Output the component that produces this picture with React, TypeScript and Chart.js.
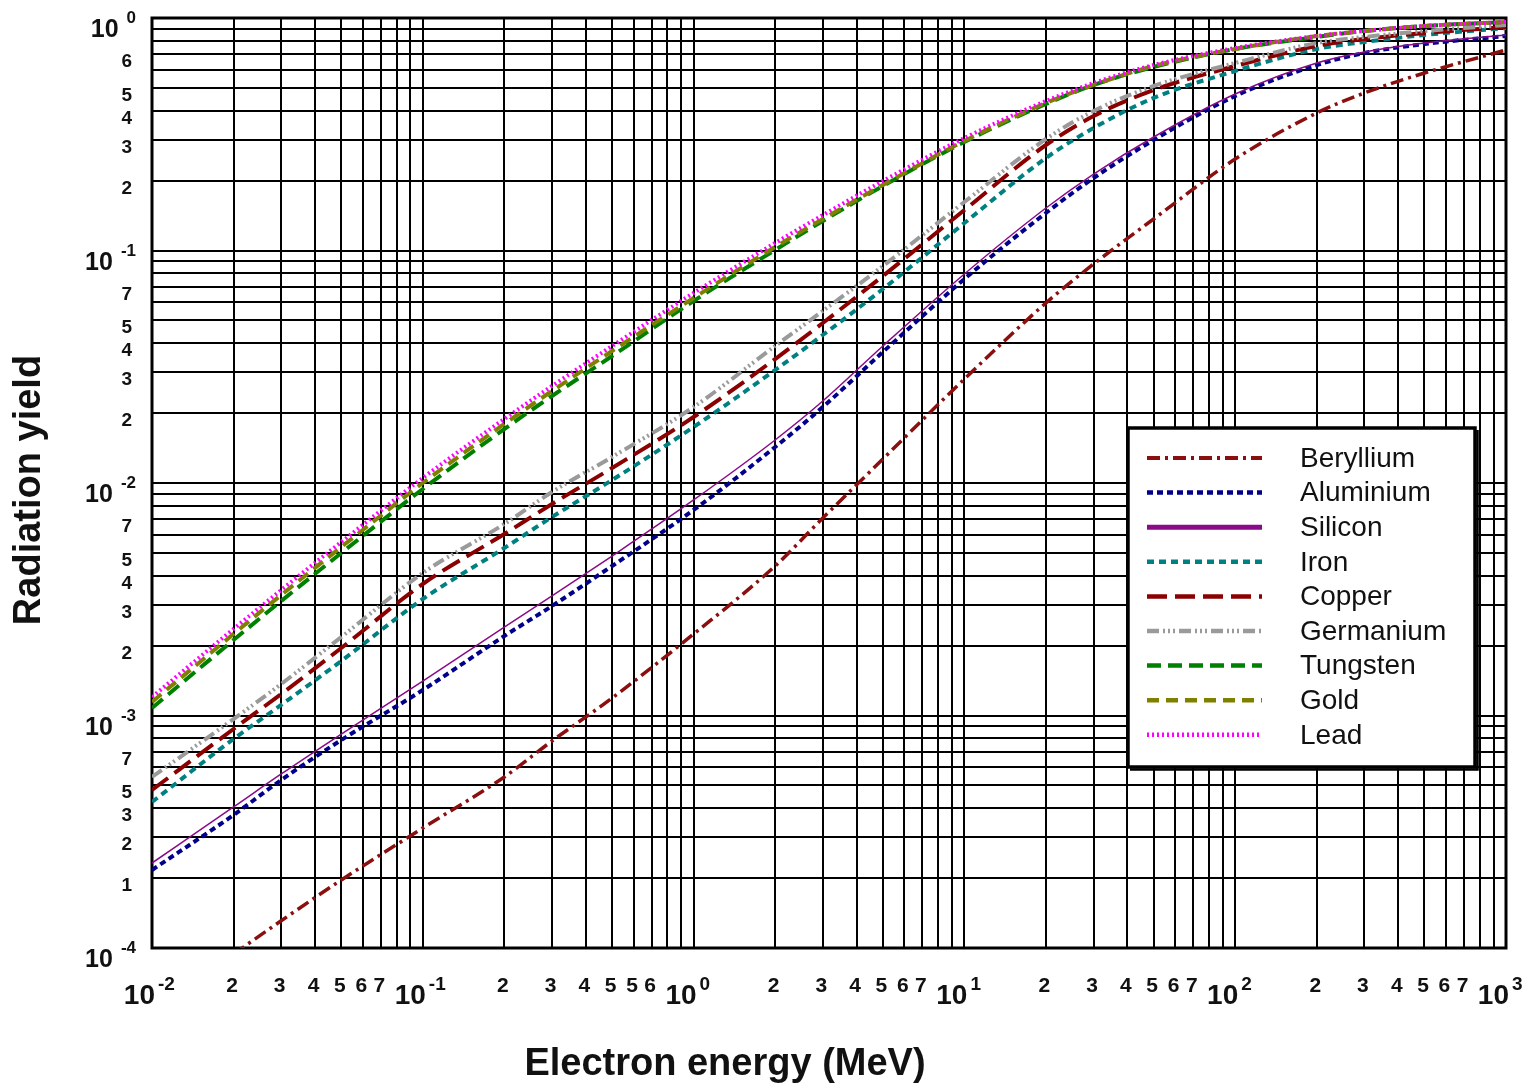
import React, { useEffect, useRef } from "react";
import { Chart, registerables } from "chart.js";

Chart.register(...registerables);

// ---------- data ----------
const energyMeV = [0.01, 0.02, 0.03, 0.05, 0.1, 0.2, 0.3, 0.5, 1, 2, 3, 5, 10, 20, 30, 50, 100, 200, 300, 500, 1000];

const beryllium = [null, 9.42e-5, 1.31e-4, 1.961e-4, 3.281e-4, 5.439e-4, 7.77e-4, 1.189e-3, 2.241e-3, 4.395e-3, 7.07e-3, 1.268e-2, 2.8e-2, 5.946e-2, 8.748e-2, 0.1366, 0.2474, 0.3903, 0.4759, 0.58, 0.7283];
const aluminium = [2.165e-4, 3.733e-4, 5.279e-4, 7.845e-4, 1.287e-3, 2.197e-3, 2.958e-3, 4.395e-3, 7.655e-3, 1.428e-2, 2.122e-2, 3.66e-2, 7.541e-2, 0.145, 0.205, 0.2987, 0.4618, 0.6278, 0.7069, 0.7731, 0.8366];
const silicon = [2.32e-4, 4.041e-4, 5.603e-4, 8.325e-4, 1.407e-3, 2.402e-3, 3.266e-3, 4.853e-3, 8.452e-3, 1.531e-2, 2.252e-2, 3.884e-2, 7.924e-2, 0.1523, 0.2133, 0.3078, 0.471, 0.6403, 0.714, 0.7808, 0.845];
const iron = [4.246e-4, 7.924e-4, 1.11e-3, 1.716e-3, 3.17e-3, 5.253e-3, 7.141e-3, 1.03e-2, 1.741e-2, 3.062e-2, 4.33e-2, 6.83e-2, 0.1313, 0.2499, 0.3364, 0.453, 0.5916, 0.7356, 0.7886, 0.845, 0.9057];
const copper = [4.781e-4, 8.748e-4, 1.237e-3, 1.951e-3, 3.678e-3, 6.034e-3, 8.124e-3, 1.16e-2, 1.922e-2, 3.414e-2, 4.878e-2, 7.77e-2, 0.1493, 0.2843, 0.3788, 0.49, 0.6216, 0.7578, 0.8124, 0.8619, 0.9148];
const germanium = [5.439e-4, 9.658e-4, 1.366e-3, 2.175e-3, 4.101e-3, 6.663e-3, 9.148e-3, 1.294e-2, 2.122e-2, 3.884e-2, 5.493e-2, 8.577e-2, 0.1617, 0.3017, 0.3981, 0.51, 0.6403, 0.7808, 0.8286, 0.8791, 0.933];
const tungsten = [1.077e-3, 2.112e-3, 3.108e-3, 5.0e-3, 9.423e-3, 1.707e-2, 2.367e-2, 3.517e-2, 6.065e-2, 0.1005, 0.1339, 0.1894, 0.2929, 0.4268, 0.5151, 0.6155, 0.7356, 0.8286, 0.8791, 0.9238, 0.9612];
const gold = [1.143e-3, 2.241e-3, 3.299e-3, 5.305e-3, 1.0e-2, 1.794e-2, 2.487e-2, 3.696e-2, 6.248e-2, 0.1035, 0.1366, 0.1913, 0.2958, 0.4311, 0.5151, 0.6216, 0.7356, 0.8366, 0.8791, 0.9238, 0.9612];
const lead = [1.201e-3, 2.355e-3, 3.466e-3, 5.574e-3, 1.051e-2, 1.885e-2, 2.614e-2, 3.884e-2, 6.565e-2, 0.1077, 0.1421, 0.199, 0.3047, 0.4395, 0.5253, 0.6278, 0.743, 0.8366, 0.8791, 0.9238, 0.9612];

const seriesNames = ["Beryllium", "Aluminium", "Silicon", "Iron", "Copper", "Germanium", "Tungsten", "Gold", "Lead"];

// tick labels (as printed on the reference, including its quirks)
const xDecadeExponents = [-2, -1, 0, 1, 2, 3];
const xMinorValues = [
  0.02, 0.03, 0.04, 0.05, 0.06, 0.07,
  0.2, 0.3, 0.4, 0.5, 0.6, 0.7,
  2, 3, 4, 5, 6, 7,
  20, 30, 40, 50, 60, 70,
  200, 300, 400, 500, 600, 700,
];
const xMinorTexts = [
  "2", "3", "4", "5", "6", "7",
  "2", "3", "4", "5", "5", "6",
  "2", "3", "4", "5", "6", "7",
  "2", "3", "4", "5", "6", "7",
  "2", "3", "4", "5", "6", "7",
];
const yDecadeExponents = [0, -1, -2, -3, -4];
const yMinorValues = [
  0.7, 0.5, 0.4, 0.3, 0.2,
  0.07, 0.05, 0.04, 0.03, 0.02,
  7e-3, 5e-3, 4e-3, 3e-3, 2e-3,
  7e-4, 5e-4, 4e-4, 3e-4, 2e-4,
];
const yMinorTexts = [
  "6", "5", "4", "3", "2",
  "7", "5", "4", "3", "2",
  "7", "5", "4", "3", "2",
  "7", "5", "3", "2", "1",
];

const xTitle = "Electron energy (MeV)";
const yTitle = "Radiation yield";

// ---------- styles ----------
const FONT = '"Liberation Sans", Arial, Helvetica, sans-serif';
const seriesStyles = [
  { color: "#8b0f0f", dash: [13, 5, 3, 5], width: 3.5, legendWidth: 4, order: 8 },
  { color: "#00008b", dash: [6, 4], width: 4, legendWidth: 4.5, order: 7 },
  { color: "#8a0a8a", dash: [], width: 1.5, legendWidth: 5, order: 6 },
  { color: "#008080", dash: [7, 5], width: 4, legendWidth: 4.5, order: 5 },
  { color: "#8b0000", dash: [20, 8], width: 4, legendWidth: 4.5, order: 4 },
  { color: "#9a9a9a", dash: [12, 4, 2, 3, 2, 3, 2, 4], width: 4, legendWidth: 4.5, order: 3 },
  { color: "#008000", dash: [14, 7], width: 4, legendWidth: 4.5, order: 2 },
  { color: "#808000", dash: [12, 7], width: 4, legendWidth: 4.5, order: 1 },
  { color: "#ff00ff", dash: [2, 3], width: 4, legendWidth: 4.5, order: 0 },
];

function gridValues(fromExp: number, toExp: number): number[] {
  const out: number[] = [];
  for (let e = fromExp; e < toExp; e++) {
    for (let m = 1; m <= 9; m++) out.push(m * Math.pow(10, e));
  }
  out.push(Math.pow(10, toExp));
  return out;
}

const decorPlugin = {
  id: "decor",
  beforeDatasetsDraw(chart: any) {
    const { ctx, chartArea } = chart;
    ctx.save();
    ctx.strokeStyle = "#000";
    ctx.lineWidth = 3;
    ctx.strokeRect(chartArea.left, chartArea.top, chartArea.right - chartArea.left, chartArea.bottom - chartArea.top);
    ctx.restore();
  },
  afterDatasetsDraw(chart: any) {
    const { ctx } = chart;
    const xs = chart.scales.x;
    const ys = chart.scales.y;
    ctx.save();
    ctx.fillStyle = "#111";

    // y decade labels
    yDecadeExponents.forEach((exp) => {
      const py = ys.getPixelForValue(Math.pow(10, exp));
      const sup = String(exp);
      ctx.font = `bold 17px ${FONT}`;
      ctx.textAlign = "right";
      ctx.textBaseline = "alphabetic";
      const w = ctx.measureText(sup).width;
      ctx.fillText(sup, 136, py + 5);
      ctx.font = `bold 25px ${FONT}`;
      ctx.fillText("10", 136 - w - 8, py + 19);
    });
    // y minor labels
    ctx.font = `bold 19px ${FONT}`;
    ctx.textAlign = "right";
    yMinorValues.forEach((v, i) => {
      const py = ys.getPixelForValue(v);
      ctx.fillText(yMinorTexts[i], 132, py + 13);
    });

    // x decade labels
    xDecadeExponents.forEach((exp) => {
      const px = xs.getPixelForValue(Math.pow(10, exp));
      ctx.font = `bold 28px ${FONT}`;
      ctx.textAlign = "right";
      ctx.fillText("10", px + 3, 1004);
      ctx.font = `bold 19px ${FONT}`;
      ctx.textAlign = "left";
      ctx.fillText(String(exp), px + 6, 990);
    });
    // x minor labels
    ctx.font = `bold 21px ${FONT}`;
    ctx.textAlign = "center";
    xMinorValues.forEach((v, i) => {
      const px = xs.getPixelForValue(v);
      ctx.fillText(xMinorTexts[i], px - 1.5, 992);
    });

    // axis titles
    ctx.font = `bold 38px ${FONT}`;
    ctx.textAlign = "center";
    ctx.textBaseline = "middle";
    ctx.fillText(xTitle, 725, 1065);
    ctx.save();
    ctx.translate(30, 490);
    ctx.rotate(-Math.PI / 2);
    ctx.fillText(yTitle, 0, 0);
    ctx.restore();

    // legend box
    const bx = 1128, by = 428, bw = 347, bh = 339;
    ctx.fillStyle = "#fff";
    ctx.fillRect(bx, by, bw, bh);
    ctx.strokeStyle = "#000";
    ctx.lineWidth = 3.5;
    ctx.strokeRect(bx, by, bw, bh);
    ctx.lineWidth = 2.5;
    ctx.beginPath();
    ctx.moveTo(bx + bw + 2.5, by + 2);
    ctx.lineTo(bx + bw + 2.5, by + bh + 2.5);
    ctx.lineTo(bx + 2, by + bh + 2.5);
    ctx.stroke();
    seriesNames.forEach((name, i) => {
      const st = seriesStyles[i];
      const ry = 458 + i * 34.6;
      ctx.beginPath();
      ctx.setLineDash(st.dash);
      ctx.lineCap = "butt";
      ctx.strokeStyle = st.color;
      ctx.lineWidth = st.legendWidth;
      ctx.moveTo(1147, ry);
      ctx.lineTo(1262, ry);
      ctx.stroke();
      ctx.setLineDash([]);
      ctx.fillStyle = "#111";
      ctx.font = `28px ${FONT}`;
      ctx.textAlign = "left";
      ctx.textBaseline = "middle";
      ctx.fillText(name, 1300, ry + 1);
    });
    ctx.restore();
  },
};

export default function App() {
  const ref = useRef<HTMLCanvasElement | null>(null);

  useEffect(() => {
    if (!ref.current) return;
    const seriesData = [beryllium, aluminium, silicon, iron, copper, germanium, tungsten, gold, lead];
    const datasets = seriesNames.map((name, i) => {
      const st = seriesStyles[i];
      return {
        label: name,
        data: energyMeV.map((e, k) => ({ x: e, y: seriesData[i][k] })),
        borderColor: st.color,
        backgroundColor: st.color,
        borderWidth: st.width,
        borderDash: st.dash,
        borderCapStyle: "butt" as const,
        pointRadius: 0,
        fill: false,
        cubicInterpolationMode: "monotone" as const,
        order: st.order,
      };
    });
    const xGrid = gridValues(-2, 3);
    const yGrid = gridValues(-4, 0);
    const chart = new Chart(ref.current, {
      type: "line",
      data: { datasets },
      options: {
        animation: false,
        responsive: false,
        devicePixelRatio: 1,
        layout: { padding: { left: 152, top: 18, right: 33, bottom: 141 } },
        plugins: { legend: { display: false }, tooltip: { enabled: false } },
        scales: {
          x: {
            type: "logarithmic",
            min: 0.01,
            max: 1000,
            ticks: { display: false },
            grid: { color: "#000", lineWidth: 2, drawTicks: false },
            border: { display: false },
            afterBuildTicks: (axis: any) => {
              axis.ticks = xGrid.map((v) => ({ value: v }));
            },
            afterFit: (axis: any) => {
              axis.height = 0;
            },
          },
          y: {
            type: "logarithmic",
            min: 1e-4,
            max: 1,
            ticks: { display: false },
            grid: { color: "#000", lineWidth: 2, drawTicks: false },
            border: { display: false },
            afterBuildTicks: (axis: any) => {
              axis.ticks = yGrid.map((v) => ({ value: v }));
            },
            afterFit: (axis: any) => {
              axis.width = 0;
            },
          },
        },
      } as any,
      plugins: [decorPlugin],
    });
    return () => chart.destroy();
  }, []);

  return (
    <div style={{ position: "fixed", left: 0, top: 0, width: 1539, height: 1089, background: "#fff" }}>
      <canvas ref={ref} width={1539} height={1089} style={{ width: 1539, height: 1089, display: "block" }} />
    </div>
  );
}
